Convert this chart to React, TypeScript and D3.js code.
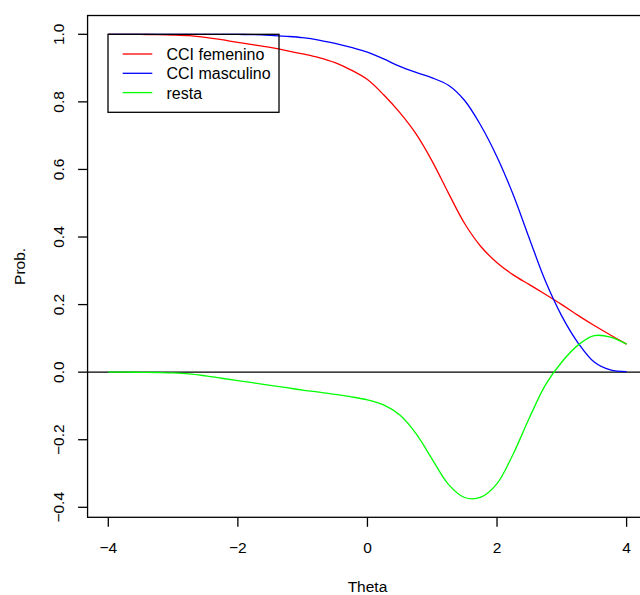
import React from "react";
import * as d3 from "d3";

const theta = [
  -4, -3.75, -3.5, -3.25, -3, -2.75, -2.5, -2.25, -2, -1.75, -1.5, -1.25, -1, -0.75, -0.5, -0.25,
  0, 0.25, 0.5, 0.75, 1, 1.25, 1.5, 1.75, 2, 2.25, 2.5, 2.75, 3, 3.25, 3.5, 3.75, 4,
];
const cciFemenino = [
  1.0, 1.0, 0.9995, 0.999, 0.998, 0.996, 0.991, 0.984, 0.976, 0.969, 0.961, 0.952, 0.942, 0.931, 0.916, 0.894,
  0.866, 0.821, 0.768, 0.705, 0.624, 0.53, 0.44, 0.372, 0.324, 0.288, 0.259, 0.23, 0.2, 0.168, 0.138, 0.11, 0.083,
];
const cciMasculino = [
  1.0, 1.0, 1.0, 1.0, 1.0, 1.0, 1.0, 1.0, 0.9995, 0.999, 0.997, 0.994, 0.99, 0.983, 0.973, 0.961,
  0.947, 0.927, 0.905, 0.887, 0.871, 0.849, 0.804, 0.73, 0.637, 0.525, 0.395, 0.268, 0.166, 0.087, 0.03, 0.0065, 0.0015,
];
const resta = [
  0, 0, -0.0005, -0.001, -0.002, -0.005, -0.011, -0.018, -0.025, -0.032, -0.039, -0.046, -0.053, -0.059, -0.066, -0.073,
  -0.082, -0.097, -0.127, -0.182, -0.258, -0.332, -0.371, -0.37, -0.33, -0.242, -0.135, -0.037, 0.03, 0.08, 0.108, 0.104, 0.083,
];
const xTicks = [-4, -2, 0, 2, 4];
const yTicks = [-0.4, -0.2, 0.0, 0.2, 0.4, 0.6, 0.8, 1.0];
const seriesNames = ["CCI femenino", "CCI masculino", "resta"];
const seriesColors = ["#ff0000", "#0000ff", "#00ff00"];
const seriesValues = [cciFemenino, cciMasculino, resta];

const W = 640;
const H = 595;
const FONT = "'Liberation Sans', Arial, Helvetica, sans-serif";

export default function App() {
  const x = d3.scaleLinear().domain([-4, 4]).range([108.3, 626.6]);
  const y = d3.scaleLinear().domain([-0.4, 1.0]).range([507.3, 34.3]);
  const xLo = -4.32, xHi = 4.32;
  const yLo = -0.4296, yHi = 1.0556;
  const left = x(xLo), right = x(xHi), top = y(yHi), bottom = y(yLo);

  const line = d3
    .line<number>()
    .x((_, i) => x(theta[i]))
    .y((d) => y(d))
    .curve(d3.curveCatmullRom.alpha(0.5));

  const fmtY = (v: number) => d3.format(".1f")(v).replace("-", "\u2212");
  const fmtX = (v: number) => String(v).replace("-", "\u2212");

  const legX = 108, legY = 34.3, legW = 171, legH = 78;
  const rowY = [54, 73.3, 92.6];

  return (
    <svg
      width={W}
      height={H}
      style={{ position: "absolute", left: 0, top: 0, display: "block", background: "#fff" }}
      fontFamily={FONT}
    >
      <defs>
        <clipPath id="plotclip">
          <rect x={left} y={top} width={right - left} height={bottom - top} />
        </clipPath>
      </defs>
      <rect x={0} y={0} width={W} height={H} fill="#fff" />

      <g clipPath="url(#plotclip)">
        <line x1={left} x2={right} y1={y(0)} y2={y(0)} stroke="#000" strokeWidth={1.3} />
        {seriesValues.map((vals, k) => (
          <path key={k} d={line(vals) || ""} fill="none" stroke={seriesColors[k]} strokeWidth={1.3} />
        ))}
      </g>

      <rect x={left} y={top} width={right - left} height={bottom - top} fill="none" stroke="#000" strokeWidth={1.3} />

      {xTicks.map((t) => (
        <g key={t}>
          <line x1={x(t)} x2={x(t)} y1={bottom} y2={bottom + 9.5} stroke="#000" strokeWidth={1.3} />
          <text x={x(t)} y={553.3} textAnchor="middle" fontSize={15.5} fill="#000">
            {fmtX(t)}
          </text>
        </g>
      ))}

      {yTicks.map((t) => (
        <g key={t}>
          <line x1={left - 9.5} x2={left} y1={y(t)} y2={y(t)} stroke="#000" strokeWidth={1.3} />
          <text
            transform={`translate(63.5,${y(t)}) rotate(-90)`}
            textAnchor="middle"
            fontSize={15.5}
            fill="#000"
          >
            {fmtY(t)}
          </text>
        </g>
      ))}

      <text x={(left + right) / 2} y={591.5} textAnchor="middle" fontSize={15.5} fill="#000">
        Theta
      </text>
      <text transform={`translate(25,${(top + bottom) / 2}) rotate(-90)`} textAnchor="middle" fontSize={15.5} fill="#000">
        Prob.
      </text>

      <rect x={legX} y={legY} width={legW} height={legH} fill="none" stroke="#000" strokeWidth={1.3} />
      {seriesNames.map((name, k) => (
        <g key={name}>
          <line x1={122.7} x2={152.3} y1={rowY[k]} y2={rowY[k]} stroke={seriesColors[k]} strokeWidth={1.3} />
          <text x={166.5} y={rowY[k] + 6} fontSize={16} fill="#000">
            {name}
          </text>
        </g>
      ))}
    </svg>
  );
}
